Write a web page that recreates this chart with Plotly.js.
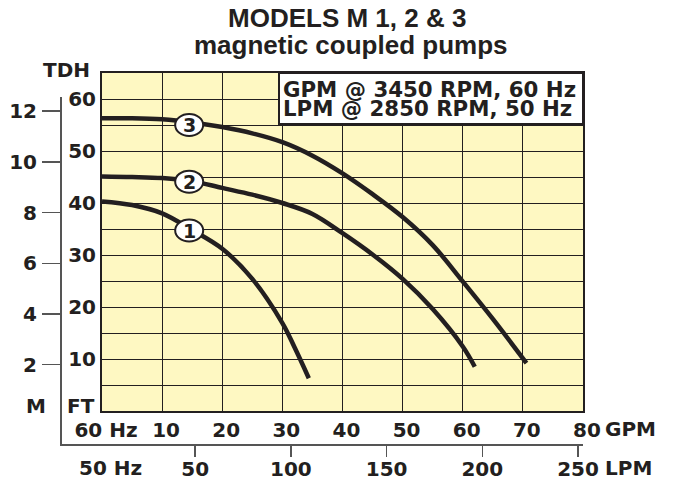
<!DOCTYPE html>
<html>
<head>
<meta charset="utf-8">
<script src="https://cdn.plot.ly/plotly-3.0.1.min.js"></script>
<style>html,body{margin:0;padding:0;background:#fff;}#chart{width:675px;height:482px;}</style>
</head>
<body>
<div id="chart"></div>
<script>
// ---- data ----
const gpm1 = [0, 5, 10, 15, 20, 25, 30, 32, 34.4];
const ft1  = [40.3, 39.6, 38.0, 34.8, 31.2, 25.4, 16.9, 12.3, 6.3];
const gpm2 = [0, 5, 10, 15, 20, 25, 30, 35, 40, 45, 50, 55, 60, 62];
const ft2  = [45.1, 45.0, 44.8, 44.2, 42.9, 41.6, 40.0, 37.9, 34.2, 30.1, 25.4, 19.6, 12.4, 8.5];
const gpm3 = [0, 5, 10, 15, 20, 25, 30, 35, 40, 45, 50, 55, 60, 65, 70.6];
const ft3  = [56.3, 56.3, 56.1, 55.5, 54.6, 53.4, 51.7, 49.1, 45.7, 41.7, 37.3, 31.9, 24.9, 17.7, 9.2];

const labelText = ['1', '2', '3'];
const labelGpm  = [14.5, 14.5, 14.5];
const labelFt   = [34.7, 44.1, 55.0];

const gpmTicks = [0, 10, 20, 30, 40, 50, 60, 70, 80];
const gpmTickText = ['60 Hz', '10', '20', '30', '40', '50', '60', '70', '80'];
const ftTicks = [10, 20, 30, 40, 50, 60];
const mTicks = [2, 4, 6, 8, 10, 12];
const lpmTicks = [50, 100, 150, 200, 250];

const W = 675, H = 482;
const px = v => v / W;          // x pixel -> paper
const py = v => (H - v) / H;    // y pixel -> paper

const INK = '#231f20';
const FONT = '"DejaVu Sans", Arial, sans-serif';
const TFONT = '"Liberation Sans", Arial, Helvetica, sans-serif';

const curveStyle = {color: INK, width: 4.5, shape: 'spline', smoothing: 1.0};
const traces = [
  {x: gpm1, y: ft1, mode: 'lines', line: curveStyle, hoverinfo: 'skip', showlegend: false},
  {x: gpm2, y: ft2, mode: 'lines', line: curveStyle, hoverinfo: 'skip', showlegend: false},
  {x: gpm3, y: ft3, mode: 'lines', line: curveStyle, hoverinfo: 'skip', showlegend: false},
  {x: [], y: [], xaxis: 'x2', yaxis: 'y2', mode: 'lines', hoverinfo: 'skip', showlegend: false}
];

const tickFont = {family: FONT, size: 20, color: INK, weight: 'bold'};

const shapes = [
  // yellow plot area
  {type: 'rect', xref: 'x domain', yref: 'y domain', x0: 0, x1: 1, y0: 0, y1: 1,
   fillcolor: '#fef8c2', line: {width: 0}, layer: 'below'},
  // white info box
  {type: 'rect', xref: 'paper', yref: 'paper', x0: px(279), x1: px(583), y0: py(124), y1: py(73),
   fillcolor: '#ffffff', line: {color: INK, width: 2}, layer: 'above'}
];
labelText.forEach((t, i) => {
  shapes.push({type: 'circle', xref: 'x', yref: 'y', xsizemode: 'pixel', ysizemode: 'pixel',
    xanchor: labelGpm[i], yanchor: labelFt[i], x0: -14, x1: 14, y0: -11, y1: 11,
    fillcolor: '#ffffff', line: {color: INK, width: 2}, layer: 'above'});
});

const ann = (text, x, y, size, xanchor, family) => ({
  text: text, xref: 'paper', yref: 'paper', x: px(x), y: py(y), xanchor: xanchor || 'center', yanchor: 'middle',
  showarrow: false, font: {family: family || FONT, size: size, color: INK, weight: 'bold'}
});

const annotations = [
  ann('MODELS M 1, 2 &amp; 3', 347, 18, 26, 'center', TFONT),
  ann('magnetic coupled pumps', 351, 45, 26, 'center', TFONT),
  ann('GPM @ 3450 RPM, 60 Hz', 281, 89, 21.3, 'left'),
  ann('LPM @ 2850 RPM, 50 Hz', 281, 109, 21.3, 'left'),
  ann('TDH', 66, 70, 20),
  ann('M', 36, 406, 20),
  ann('FT', 81, 406, 20),
  ann('GPM', 603, 429, 20, 'left'),
  ann('50 Hz', 110, 468, 20),
  ann('LPM', 603, 468, 20, 'left')
];
labelText.forEach((t, i) => {
  annotations.push({text: t, xref: 'x', yref: 'y', x: labelGpm[i], y: labelFt[i], showarrow: false,
    xanchor: 'center', yanchor: 'middle', font: {family: FONT, size: 19, color: INK, weight: 'bold'}});
});

const layout = {
  width: W, height: H, autosize: false,
  margin: {l: 0, r: 0, t: 0, b: 0, pad: 0},
  paper_bgcolor: '#ffffff', plot_bgcolor: 'rgba(0,0,0,0)',
  showlegend: false,
  xaxis: {
    domain: [px(102), px(583)], range: [0, 80], anchor: 'y',
    tickvals: gpmTicks, ticktext: gpmTickText, ticks: '', ticklabelshift: 4, ticklabelstandoff: 0,
    showgrid: true, gridcolor: INK, gridwidth: 1, zeroline: false,
    showline: true, mirror: true, linecolor: INK, linewidth: 2,
    tickfont: tickFont, fixedrange: true
  },
  yaxis: {
    domain: [py(411), py(73)], range: [0, 65], anchor: 'x',
    tickvals: ftTicks, ticks: '', ticklabelstandoff: 0,
    showgrid: true, gridcolor: INK, gridwidth: 1, zeroline: false,
    minor: {dtick: 5, showgrid: true, gridcolor: INK, gridwidth: 1, ticks: ''},
    showline: true, mirror: true, linecolor: INK, linewidth: 2,
    tickfont: tickFont, fixedrange: true
  },
  xaxis2: {
    domain: [px(60), px(583)], range: [-20.6, 252.6], anchor: 'free', position: py(444),
    tickvals: lpmTicks, ticks: 'outside', ticklen: 11, tickwidth: 1.5, tickcolor: '#555',
    showgrid: false, zeroline: false, showline: true, linecolor: '#555', linewidth: 1.5,
    tickfont: tickFont, ticklabelstandoff: -5, fixedrange: true
  },
  yaxis2: {
    domain: [py(444), py(97)], range: [-1.128, 12.56], anchor: 'free', position: px(60), side: 'left',
    tickvals: mTicks, ticks: 'outside', ticklen: 18, tickwidth: 1.5, tickcolor: '#555',
    showgrid: false, zeroline: false, showline: true, linecolor: '#555', linewidth: 1.5,
    tickfont: tickFont, ticklabelstandoff: 1, fixedrange: true
  },
  shapes: shapes,
  annotations: annotations
};

Plotly.newPlot('chart', traces, layout, {staticPlot: true, displayModeBar: false});
</script>
</body>
</html>
